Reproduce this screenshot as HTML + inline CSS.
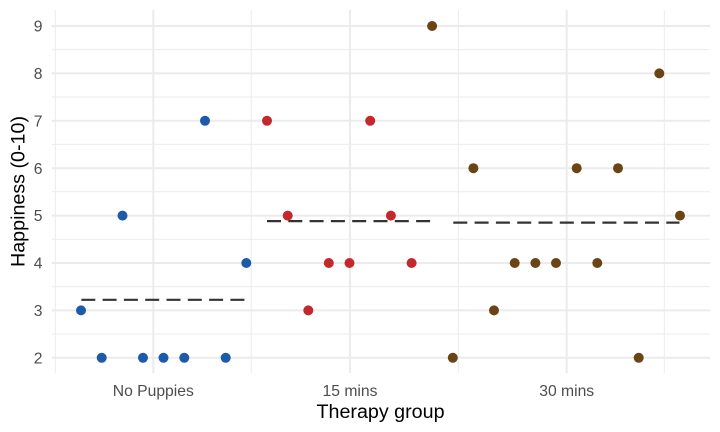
<!DOCTYPE html>
<html>
<head>
<meta charset="utf-8">
<style>
html,body{margin:0;padding:0;background:#fff;}
svg{display:block;}
text{font-family:"Liberation Sans",Arial,sans-serif;}
</style>
</head>
<body>
<svg width="720" height="432" viewBox="0 0 720 432" xmlns="http://www.w3.org/2000/svg">
<rect width="720" height="432" fill="#fff"/>
<!-- minor horizontal gridlines -->
<g stroke="#ebebeb" stroke-width="1">
<line x1="51.7" x2="710" y1="49.6" y2="49.6"/>
<line x1="51.7" x2="710" y1="97" y2="97"/>
<line x1="51.7" x2="710" y1="144.4" y2="144.4"/>
<line x1="51.7" x2="710" y1="191.8" y2="191.8"/>
<line x1="51.7" x2="710" y1="239.2" y2="239.2"/>
<line x1="51.7" x2="710" y1="286.6" y2="286.6"/>
<line x1="51.7" x2="710" y1="334" y2="334"/>
<!-- minor vertical -->
<line x1="55.3" x2="55.3" y1="10" y2="373"/>
<line x1="251.2" x2="251.2" y1="10" y2="373"/>
<line x1="458.3" x2="458.3" y1="10" y2="373"/>
<line x1="664.3" x2="664.3" y1="10" y2="373"/>
</g>
<!-- major gridlines -->
<g stroke="#ebebeb" stroke-width="2">
<line x1="51.7" x2="710" y1="26" y2="26"/>
<line x1="51.7" x2="710" y1="73.4" y2="73.4"/>
<line x1="51.7" x2="710" y1="120.8" y2="120.8"/>
<line x1="51.7" x2="710" y1="168.2" y2="168.2"/>
<line x1="51.7" x2="710" y1="215.6" y2="215.6"/>
<line x1="51.7" x2="710" y1="263" y2="263"/>
<line x1="51.7" x2="710" y1="310.4" y2="310.4"/>
<line x1="51.7" x2="710" y1="357.8" y2="357.8"/>
<line x1="153.3" x2="153.3" y1="10" y2="373"/>
<line x1="350" x2="350" y1="10" y2="373"/>
<line x1="566.7" x2="566.7" y1="10" y2="373"/>
</g>
<!-- mean lines -->
<g stroke="#333" stroke-width="2.2" stroke-dasharray="14 7.3" fill="none">
<line x1="81.3" x2="246.5" y1="299.8" y2="299.8"/>
<line x1="267" x2="432" y1="221.1" y2="221.1"/>
<line x1="453.3" x2="679.5" y1="222.6" y2="222.6"/>
</g>
<!-- blue points -->
<g fill="#1c5bab">
<circle cx="81" cy="310.4" r="5"/>
<circle cx="101.7" cy="357.8" r="5"/>
<circle cx="122.5" cy="215.6" r="5"/>
<circle cx="143" cy="357.8" r="5"/>
<circle cx="163.5" cy="357.8" r="5"/>
<circle cx="184.3" cy="357.8" r="5"/>
<circle cx="205" cy="120.8" r="5"/>
<circle cx="225.7" cy="357.8" r="5"/>
<circle cx="246.3" cy="263" r="5"/>
</g>
<!-- red points -->
<g fill="#c4282d">
<circle cx="267" cy="120.8" r="5"/>
<circle cx="287.7" cy="215.6" r="5"/>
<circle cx="308.3" cy="310.4" r="5"/>
<circle cx="328.8" cy="263" r="5"/>
<circle cx="349.5" cy="263" r="5"/>
<circle cx="370.2" cy="120.8" r="5"/>
<circle cx="390.9" cy="215.6" r="5"/>
<circle cx="411.6" cy="263" r="5"/>
</g>
<!-- brown points -->
<g fill="#6a4414">
<circle cx="432.1" cy="26" r="5"/>
<circle cx="452.8" cy="357.8" r="5"/>
<circle cx="473.4" cy="168.2" r="5"/>
<circle cx="494" cy="310.4" r="5"/>
<circle cx="514.7" cy="263" r="5"/>
<circle cx="535.4" cy="263" r="5"/>
<circle cx="556" cy="263" r="5"/>
<circle cx="576.7" cy="168.2" r="5"/>
<circle cx="597.3" cy="263" r="5"/>
<circle cx="618" cy="168.2" r="5"/>
<circle cx="638.7" cy="357.8" r="5"/>
<circle cx="659.3" cy="73.4" r="5"/>
<circle cx="680" cy="215.6" r="5"/>
</g>
<!-- y tick labels -->
<g fill="#4d4d4d" font-size="15.7" text-anchor="end">
<text x="42.5" y="31.6">9</text>
<text x="42.5" y="79">8</text>
<text x="42.5" y="126.4">7</text>
<text x="42.5" y="173.8">6</text>
<text x="42.5" y="221.2">5</text>
<text x="42.5" y="268.6">4</text>
<text x="42.5" y="316">3</text>
<text x="42.5" y="363.4">2</text>
</g>
<!-- x tick labels -->
<g fill="#4d4d4d" font-size="15.7" text-anchor="middle">
<text x="153.3" y="396">No Puppies</text>
<text x="350" y="396">15 mins</text>
<text x="566.7" y="396">30 mins</text>
</g>
<!-- axis titles -->
<text x="380.5" y="418" font-size="19.7" text-anchor="middle" fill="#000">Therapy group</text>
<text transform="translate(24.5,191.5) rotate(-90)" x="0" y="0" font-size="19.7" text-anchor="middle" fill="#000">Happiness (0-10)</text>
</svg>
</body>
</html>
